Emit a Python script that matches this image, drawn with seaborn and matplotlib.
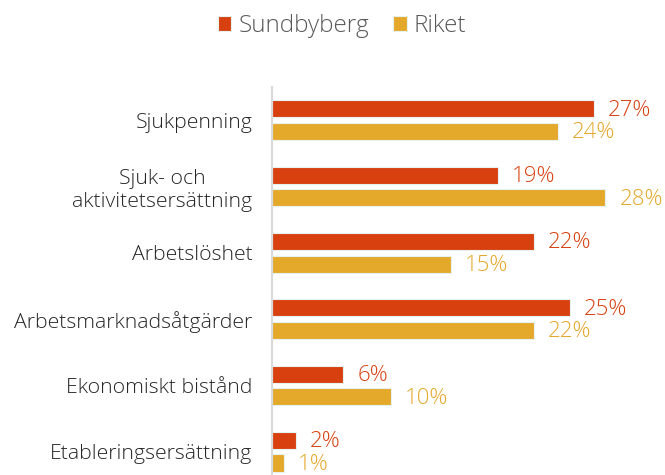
import matplotlib
matplotlib.use("Agg")
import matplotlib.pyplot as plt
import seaborn as sns
import pandas as pd

categories = [
    "Sjukpenning",
    "Sjuk- och\naktivitetsersättning",
    "Arbetslöshet",
    "Arbetsmarknadsåtgärder",
    "Ekonomiskt bistånd",
    "Etableringsersättning",
]
series_names = ["Sundbyberg", "Riket"]
sundbyberg = [27, 19, 22, 25, 6, 2]
riket = [24, 28, 15, 22, 10, 1]

colors = ["#d8400f", "#e4a82a"]

df = pd.DataFrame({
    "kategori": categories * 2,
    "område": [series_names[0]] * len(categories) + [series_names[1]] * len(categories),
    "andel": sundbyberg + riket,
})

sns.set_theme(style="white")
plt.rcParams["font.family"] = ["Open Sans", "DejaVu Sans"]
plt.rcParams["font.weight"] = "light"

fig = plt.figure(figsize=(6.65, 4.75), dpi=100)
ax = fig.add_axes([272 / 665, 0.0, 1 - 272 / 665, 1 - 87 / 475])

sns.barplot(
    data=df, y="kategori", x="andel", hue="område",
    hue_order=series_names, order=categories, palette=colors,
    orient="h", width=0.68, gap=0.24, errorbar=None, ax=ax,
    edgecolor="#e6f2f2", linewidth=0.8, saturation=1,
)

ax.set_xlim(0, 33.0)
ax.set_ylim(5.35, -0.5)
ax.set_xlabel("")
ax.set_ylabel("")
ax.set_xticks([])
for side in ["top", "right", "bottom"]:
    ax.spines[side].set_visible(False)
ax.spines["left"].set_color("#d9d9d9")
ax.spines["left"].set_linewidth(1.5)
ax.tick_params(axis="y", length=0, pad=14, labelsize=15.3, labelcolor="#262626")
for lbl in ax.get_yticklabels():
    lbl.set_fontweight("light")
    lbl.set_horizontalalignment("right")
    lbl.set_multialignment("center")

for container, col in zip(ax.containers, colors):
    texts = ax.bar_label(container, fmt="{:.0f}%", padding=10, color=col,
                         fontsize=16, fontweight="light")
    for t in texts:
        x_off, y_off = t.xyann
        t.xyann = (x_off, y_off - 1)

handles, labels = ax.get_legend_handles_labels()
ax.get_legend().remove()
leg = fig.legend(handles, labels, loc="center", bbox_to_anchor=(342 / 665, 1 - 26 / 475),
                 ncol=2, frameon=False, handlelength=0.55, handleheight=0.55,
                 handletextpad=0.3, columnspacing=1.0, fontsize=17.5,
                 labelcolor="#595959")
for t in leg.get_texts():
    t.set_fontweight("light")

fig.savefig("out.png", dpi=100)
